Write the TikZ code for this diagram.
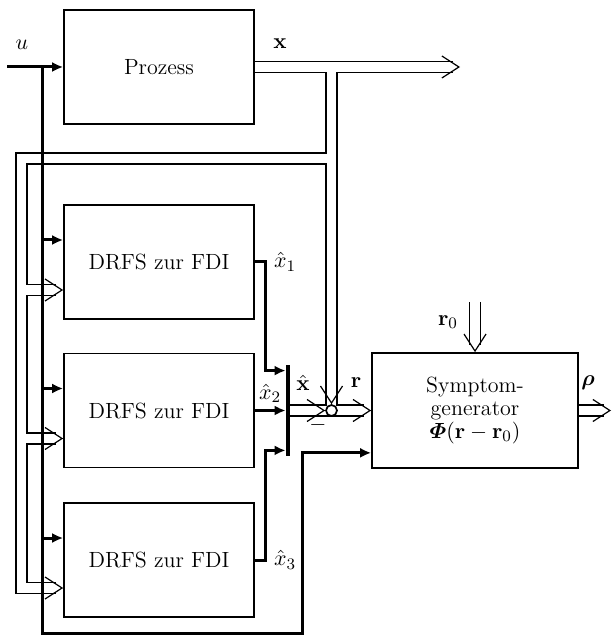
\documentclass[tikz,border=0pt]{standalone}
\usepackage{amsmath,bm}
\usepackage{tikz}
\usetikzlibrary{arrows.meta,positioning,calc}

\begin{document}
\begin{tikzpicture}[x=0.5pt,y=-0.5pt,font=\fontsize{11}{12.5}\selectfont,
    box/.style={draw,line width=0.85pt,minimum width=95pt,minimum height=57pt,align=center},
    sig/.style={line width=1.5pt,-{Latex[length=5.5pt,width=5pt]}},
    vec/.style={double,line width=0.6pt,double distance=4.9pt},
    chev/.style={draw=white,line width=0.6pt,-{Straight Barb[length=8.5pt,width=11pt,color=black,line width=0.6pt]}}]
    \useasboundingbox (0,0) rectangle (612,635);
    % blocks
    \node[box] (P) at (159,67) {Prozess};
    \node[box] (D1) at (159,262) {DRFS zur FDI};
    \node[box] (D2) at (159,410.5) {DRFS zur FDI};
    \node[box] (D3) at (159,560) {DRFS zur FDI};
    \node[box,minimum width=103pt,minimum height=57.5pt,font=\fontsize{11}{11.6}\selectfont] (S) at (475,410.5) {Symptom-\\generator\\$\bm{\varPhi}(\mathbf{r}-\mathbf{r}_0)$};
    \node[fill,minimum width=2pt,minimum height=45.5pt,inner sep=0pt] (mux) at (288,410.5) {};
    % points of the vector lines
    \coordinate (xo) at (453,67);
    \coordinate (xtip) at (460,67);
    \coordinate (xb) at (331.5,67);
    \coordinate (sumc) at (331.5,410.5);
    \coordinate (bus) at (21.5,158.5);
    \coordinate (in1) at ($(D1.west)+(0,28)$);
    \coordinate (in2) at ($(D2.west)+(0,28)$);
    \coordinate (in3) at ($(D3.west)+(0,28)$);
    \coordinate (r0) at (475,302);
    \coordinate (rhoend) at (604,410.5);
    \coordinate (rhotip) at (611,410.5);
    % vector signals (one path, clean joints)
    \draw[vec] (P.east) -- (xo)
      (xb) -- (sumc)
      (xb |- bus) -- (bus) -- (bus |- in3) -- ([xshift=-3.5pt]in3)
      (bus |- in1) -- ([xshift=-3.5pt]in1)
      (bus |- in2) -- ([xshift=-3.5pt]in2)
      (mux.east) -- ([xshift=-3.5pt]S.west)
      (r0) -- ([yshift=3.5pt]S.north)
      (S.east) -- (rhoend);
    \node[draw,circle,fill=white,line width=0.85pt,minimum size=5.5pt,inner sep=0pt] (sum) at (sumc) {};
    \draw[chev] ([xshift=-10pt]xtip) -- (xtip);
    \draw[chev] ([xshift=-10pt]in1) -- (in1);
    \draw[chev] ([xshift=-10pt]in2) -- (in2);
    \draw[chev] ([xshift=-10pt]in3) -- (in3);
    \draw[chev] ([xshift=-10pt]sum.west) -- (sum.west);
    \draw[chev] ([yshift=10pt]sum.north) -- (sum.north);
    \draw[chev] ([xshift=-10pt]S.west) -- (S.west);
    \draw[chev] ([yshift=10pt]S.north) -- (S.north);
    \draw[chev] ([xshift=-10pt]rhotip) -- (rhotip);
    % scalar signals
    \coordinate (u0) at (7,67);
    \coordinate (ub) at (42,67);
    \coordinate (ubot) at (42,633);
    \coordinate (sin) at ($(S.south west)+(0,-16)$);
    \draw[sig] (u0) -- (P.west);
    \draw[sig] (ub) -- (ubot) -| ($(sin)+(-69,0)$) -- (sin);
    \draw[sig] (ub |- D1.west) ++(0,-22) -- ($(D1.west)+(0,-22)$);
    \draw[sig] (ub |- D2.west) ++(0,-22) -- ($(D2.west)+(0,-22)$);
    \draw[sig] (ub |- D3.west) ++(0,-22) -- ($(D3.west)+(0,-22)$);
    \draw[sig] (D1.east) -- ++(11,0) node[right]{$\hat{x}_1$} |- ([yshift=-3pt]mux.north west);
    \draw[sig] (D2.east) -- (D2.east -| mux.west) node[midway,above]{$\hat{x}_2$};
    \draw[sig] (D3.east) -- ++(11,0) node[right]{$\hat{x}_3$} |- ([yshift=3pt]mux.south west);
    % labels
    \node (lu) at (22,45) {$u$};
    \node (lx) at (280,44) {$\mathbf{x}$};
    \node (lxh) at (303,383) {$\hat{\mathbf{x}}$};
    \node (lr) at (356,383) {$\mathbf{r}$};
    \node (lm) at (318,425) {$-$};
    \node (lr0) at (448,322) {$\mathbf{r}_0$};
    \node (lrho) at (588,383) {$\bm{\rho}$};
  \end{tikzpicture}
\end{document}
